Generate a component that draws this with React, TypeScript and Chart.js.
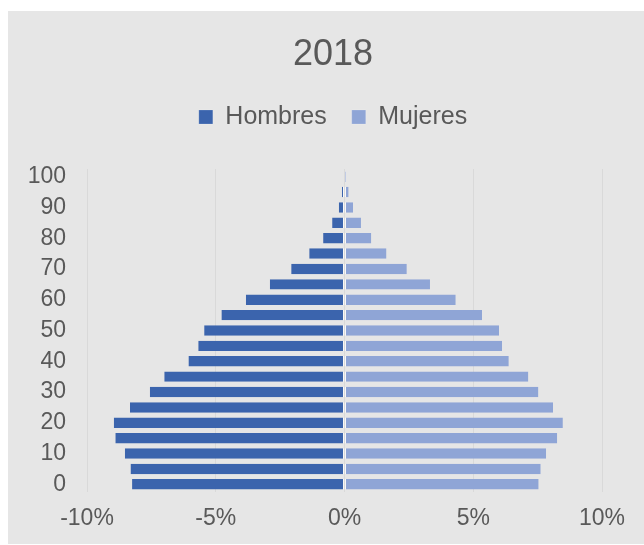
import React, { useEffect, useRef } from "react";
import { Chart, registerables } from "chart.js";

Chart.register(...registerables);

const titleText = "2018";
const ages = [0, 5, 10, 15, 20, 25, 30, 35, 40, 45, 50, 55, 60, 65, 70, 75, 80, 85, 90, 95, 100];
const hombres = [-8.25, -8.31, -8.53, -8.9, -8.96, -8.33, -7.56, -7.0, -6.06, -5.68, -5.45, -4.78, -3.83, -2.9, -2.07, -1.37, -0.83, -0.48, -0.22, -0.1, -0.02];
const mujeres = [7.54, 7.62, 7.83, 8.26, 8.48, 8.1, 7.53, 7.14, 6.38, 6.12, 6.0, 5.34, 4.32, 3.32, 2.42, 1.63, 1.04, 0.64, 0.33, 0.16, 0.06];
const xTicks = [-10, -5, 0, 5, 10];

const FONT = "'Liberation Sans', Arial, sans-serif";
const TEXT = "#595959";

export default function App() {
  const ref = useRef<HTMLCanvasElement | null>(null);

  useEffect(() => {
    if (!ref.current) return;
    const chart = new Chart(ref.current, {
      type: "bar",
      data: {
        labels: ages.map(String),
        datasets: [
          {
            label: "Hombres",
            data: hombres,
            backgroundColor: "#3B64AD",
            borderColor: "rgba(255,255,255,0.7)",
            borderWidth: { top: 0, bottom: 0, left: 0, right: 1 },
            borderSkipped: false,
            barPercentage: 0.68,
            categoryPercentage: 1,
          },
          {
            label: "Mujeres",
            data: mujeres,
            backgroundColor: "#8FA5D6",
            borderColor: "rgba(255,255,255,0.7)",
            borderWidth: { top: 0, bottom: 0, left: 1, right: 0 },
            borderSkipped: false,
            barPercentage: 0.68,
            categoryPercentage: 1,
          },
        ],
      },
      options: {
        indexAxis: "y",
        animation: false,
        responsive: true,
        maintainAspectRatio: false,
        layout: { padding: { left: 14, right: 0, top: 0, bottom: 0 } },
        plugins: {
          title: {
            display: true,
            text: titleText,
            color: TEXT,
            font: { family: FONT, size: 36, weight: "normal", lineHeight: 1.2 },
            padding: { top: 22, bottom: 3.3 },
          },
          subtitle: {
            display: true,
            text: "",
            weight: 500,
            font: { family: FONT, size: 1, lineHeight: 1 },
            padding: { top: 28.5, bottom: 0 },
          },
          legend: {
            display: true,
            position: "top",
            labels: {
              color: TEXT,
              font: { family: FONT, size: 25 },
              boxWidth: 14,
              boxHeight: 14,
              padding: 25,
            },
          },
          tooltip: { enabled: false },
        },
        scales: {
          x: {
            type: "linear",
            stacked: true,
            min: -10,
            max: 10,
            afterBuildTicks: (s: any) => {
              s.ticks = xTicks.map((v) => ({ value: v }));
            },
            afterFit: (s: any) => {
              s.height = 52;
            },
            grid: { color: "#D9D9D9", lineWidth: 1, drawTicks: false },
            border: { display: false },
            ticks: {
              color: TEXT,
              font: { family: FONT, size: 23 },
              padding: 13,
              callback: (v: any) => `${v}%`,
            },
          },
          y: {
            type: "category",
            stacked: true,
            reverse: true,
            afterFit: (s: any) => {
              s.width = 65;
            },
            grid: { display: false, drawTicks: false },
            border: { display: false },
            ticks: {
              color: TEXT,
              font: { family: FONT, size: 23 },
              padding: 21,
              autoSkip: false,
              callback: (_v: any, i: number) => (ages[i] % 10 === 0 ? String(ages[i]) : ""),
            },
          },
          yRight: {
            type: "linear",
            position: "right",
            display: true,
            afterFit: (s: any) => {
              s.width = 42;
            },
            grid: { display: false, drawTicks: false },
            border: { display: false },
            ticks: { display: false },
          },
        },
      },
    });
    return () => chart.destroy();
  }, []);

  return (
    <div
      style={{
        position: "absolute",
        left: 8,
        top: 11,
        width: 636,
        height: 533,
        background: "#E6E6E6",
      }}
    >
      <canvas ref={ref} />
    </div>
  );
}
